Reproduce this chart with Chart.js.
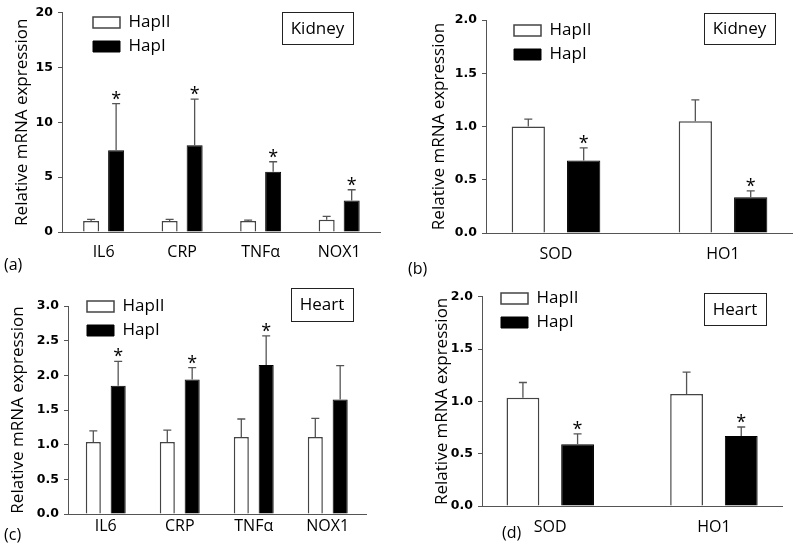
<!DOCTYPE html>
<html>
<head>
<meta charset="utf-8">
<script src="https://cdn.jsdelivr.net/npm/chart.js@4.4.1/dist/chart.umd.min.js"></script>
<style>
  html, body { margin: 0; padding: 0; background: #fff; }
  #fig { position: relative; width: 799px; height: 548px; overflow: hidden; }
  #fig canvas { position: absolute; }
</style>
</head>
<body>
<div id="fig">
  <canvas id="panelA" width="400" height="282" style="left:0;top:0;width:400px;height:282px"></canvas>
  <canvas id="panelB" width="399" height="282" style="left:400px;top:0;width:399px;height:282px"></canvas>
  <canvas id="panelC" width="400" height="266" style="left:0;top:282px;width:400px;height:266px"></canvas>
  <canvas id="panelD" width="399" height="266" style="left:400px;top:282px;width:399px;height:266px"></canvas>
</div>
<script>
// categories
const genes = ['IL6', 'CRP', 'TNFα', 'NOX1'];
const enzymes = ['SOD', 'HO1'];

// y tick labels
const yLabelsA = ['0', '5', '10', '15', '20'];
const yLabelsB = ['0.0', '0.5', '1.0', '1.5', '2.0'];
const yLabelsC = ['0.0', '0.5', '1.0', '1.5', '2.0', '2.5', '3.0'];
const yLabelsD = ['0.0', '0.5', '1.0', '1.5', '2.0'];

// (a) kidney, inflammation genes
const hap2A = [1.0, 1.0, 1.0, 1.12];
const hap2ErrA = [0.15, 0.15, 0.08, 0.31];
const hap1A = [7.45, 7.9, 5.5, 2.88];
const hap1ErrA = [4.25, 4.2, 0.9, 0.97];
const starA = [true, true, true, true];

// (b) kidney, antioxidant enzymes
const hap2B = [1.0, 1.05];
const hap2ErrB = [0.07, 0.2];
const hap1B = [0.68, 0.335];
const hap1ErrB = [0.12, 0.06];
const starB = [true, true];

// (c) heart, inflammation genes
const hap2C = [1.04, 1.04, 1.11, 1.11];
const hap2ErrC = [0.16, 0.17, 0.26, 0.27];
const hap1C = [1.85, 1.94, 2.15, 1.65];
const hap1ErrC = [0.35, 0.17, 0.42, 0.49];
const starC = [true, true, true, false];

// (d) heart, antioxidant enzymes
const hap2D = [1.035, 1.07];
const hap2ErrD = [0.145, 0.21];
const hap1D = [0.59, 0.67];
const hap1ErrD = [0.1, 0.085];
const starD = [true, true];

Chart.defaults.font.family = "'Open Sans', sans-serif";
Chart.defaults.color = '#000';

const LEG_FONT = 17;
const LEG_BOX_H = 11;
const LEG_PAD = 7;

// error bars (upward only) and significance stars
const errorBars = {
  id: 'errorBars',
  afterDatasetsDraw(chart) {
    const ctx = chart.ctx;
    const yScale = chart.scales.y;
    chart.data.datasets.forEach((ds, d) => {
      chart.getDatasetMeta(d).data.forEach((bar, i) => {
        const top = yScale.getPixelForValue(ds.data[i].y + ds.err[i]);
        ctx.save();
        ctx.strokeStyle = '#555';
        ctx.lineWidth = 1.3;
        ctx.beginPath();
        ctx.moveTo(bar.x, bar.y);
        ctx.lineTo(bar.x, top);
        ctx.moveTo(bar.x - 4, top);
        ctx.lineTo(bar.x + 4, top);
        ctx.stroke();
        if (ds.star && ds.star[i]) {
          ctx.fillStyle = '#000';
          ctx.font = "18px 'Open Sans'";
          ctx.textAlign = 'center';
          ctx.textBaseline = 'alphabetic';
          ctx.fillText('*', bar.x, top + 1);
        }
        ctx.restore();
      });
    });
  }
};

// tissue label box and panel letter
const panelText = {
  id: 'panelText',
  afterDraw(chart, args, opts) {
    const ctx = chart.ctx;
    const [x0, y0, x1, y1] = opts.box;
    ctx.save();
    ctx.strokeStyle = '#222';
    ctx.lineWidth = 1;
    ctx.strokeRect(x0 + 0.5, y0 + 0.5, x1 - x0, y1 - y0);
    ctx.fillStyle = '#000';
    ctx.font = "17px 'Open Sans'";
    ctx.textAlign = 'center';
    ctx.textBaseline = 'middle';
    ctx.fillText(opts.tissue, (x0 + x1) / 2, (y0 + y1) / 2 + 1);
    ctx.font = "16px 'Open Sans'";
    ctx.textAlign = 'left';
    ctx.fillText(opts.letter, opts.letterX, opts.letterY);
    ctx.restore();
  }
};

// place the legend inside the plot, top left (x, y = first swatch corner)
const legendSpot = {
  id: 'legendSpot',
  afterLayout(chart, args, opts) {
    const lg = chart.legend;
    lg.left = opts.x - LEG_PAD;
    lg.top = opts.y - LEG_PAD - (LEG_FONT - LEG_BOX_H) / 2;
    lg.right = chart.width;
    lg.bottom = chart.height;
  }
};

function makePanel(id, p) {
  const toPoints = vals => vals.map((v, i) => ({ x: i + 1, y: v }));
  return new Chart(document.getElementById(id), {
    type: 'bar',
    data: {
      datasets: [
        {
          label: 'HapII',
          data: toPoints(p.hap2),
          err: p.hap2Err,
          backgroundColor: '#fff',
          borderColor: '#444',
          borderWidth: 1.5
        },
        {
          label: 'HapI',
          data: toPoints(p.hap1),
          err: p.hap1Err,
          star: p.star,
          backgroundColor: '#000',
          borderColor: '#000',
          borderWidth: 1
        }
      ]
    },
    options: {
      responsive: false,
      animation: false,
      categoryPercentage: p.cat,
      barPercentage: p.bar,
      layout: { padding: p.pad },
      plugins: {
        tooltip: { enabled: false },
        legend: {
          position: 'chartArea',
          align: 'start',
          labels: { boxWidth: 27, boxHeight: LEG_BOX_H, padding: LEG_PAD, font: { size: LEG_FONT }, color: '#000' }
        },
        legendSpot: p.legend,
        panelText: p.text
      },
      scales: {
        x: {
          type: 'linear',
          offset: false,
          min: p.xMin,
          max: p.xMax,
          afterBuildTicks: s => { s.ticks = p.cats.map((c, i) => ({ value: i + 1 })); },
          afterFit: s => { s.height = 30; },
          grid: { display: false, drawTicks: false },
          border: { color: '#555' },
          ticks: { callback: v => p.cats[v - 1], font: { size: 16 }, padding: p.xPad, color: '#000' }
        },
        y: {
          min: 0,
          max: Number(p.yLabels[p.yLabels.length - 1]),
          afterBuildTicks: s => { s.ticks = p.yLabels.map(t => ({ value: Number(t) })); },
          afterFit: s => { s.width = p.yWidth; },
          grid: { drawOnChartArea: false, tickLength: 4, color: '#555' },
          border: { color: '#555' },
          ticks: {
            callback: (v, i) => p.yLabels[i],
            font: { family: "'DejaVu Sans'", weight: 'bold', size: 12.5 },
            padding: 5,
            color: '#000'
          },
          title: {
            display: true,
            text: 'Relative mRNA expression',
            font: { size: 17 },
            color: '#000',
            padding: { top: p.titlePad, bottom: 0 }
          }
        }
      }
    },
    plugins: [errorBars, panelText, legendSpot]
  });
}

makePanel('panelA', {
  cats: genes, yLabels: yLabelsA,
  hap2: hap2A, hap2Err: hap2ErrA, hap1: hap1A, hap1Err: hap1ErrA, star: starA,
  pad: { left: 0, top: 12, right: 20, bottom: 20 }, yWidth: 62,
  xMin: 0.47, xMax: 4.52, cat: 0.637, bar: 0.64, xPad: 11, titlePad: 12,
  legend: { x: 93, y: 17 },
  text: { tissue: 'Kidney', box: [282, 12, 353, 44], letter: '(a)', letterX: 4, letterY: 265 }
});

makePanel('panelB', {
  cats: enzymes, yLabels: yLabelsB,
  hap2: hap2B, hap2Err: hap2ErrB, hap1: hap1B, hap1Err: hap1ErrB, star: starB,
  pad: { left: 0, top: 20, right: 7, bottom: 19 }, yWidth: 86,
  xMin: 0.581, xMax: 2.413, cat: 0.663, bar: 0.601, xPad: 12, titlePad: 29,
  legend: { x: 114, y: 25 },
  text: { tissue: 'Kidney', box: [304, 13, 375, 44], letter: '(b)', letterX: 8, letterY: 269 }
});

makePanel('panelC', {
  cats: genes, yLabels: yLabelsC,
  hap2: hap2C, hap2Err: hap2ErrC, hap1: hap1C, hap1Err: hap1ErrC, star: starC,
  pad: { left: 0, top: 24, right: 34, bottom: 4 }, yWidth: 68,
  xMin: 0.49, xMax: 4.517, cat: 0.672, bar: 0.605, xPad: 3, titlePad: 8,
  legend: { x: 87, y: 19 },
  text: { tissue: 'Heart', box: [291, 6, 353, 39], letter: '(c)', letterX: 4, letterY: 253 }
});

makePanel('panelD', {
  cats: enzymes, yLabels: yLabelsD,
  hap2: hap2D, hap2Err: hap2ErrD, hap1: hap1D, hap1Err: hap1ErrD, star: starD,
  pad: { left: 0, top: 14.7, right: 17, bottom: 12 }, yWidth: 82,
  xMin: 0.583, xMax: 2.416, cat: 0.668, bar: 0.6, xPad: 12, titlePad: 32,
  legend: { x: 101, y: 11 },
  text: { tissue: 'Heart', box: [304, 11, 366, 43], letter: '(d)', letterX: 102, letterY: 251 }
});
</script>
</body>
</html>
